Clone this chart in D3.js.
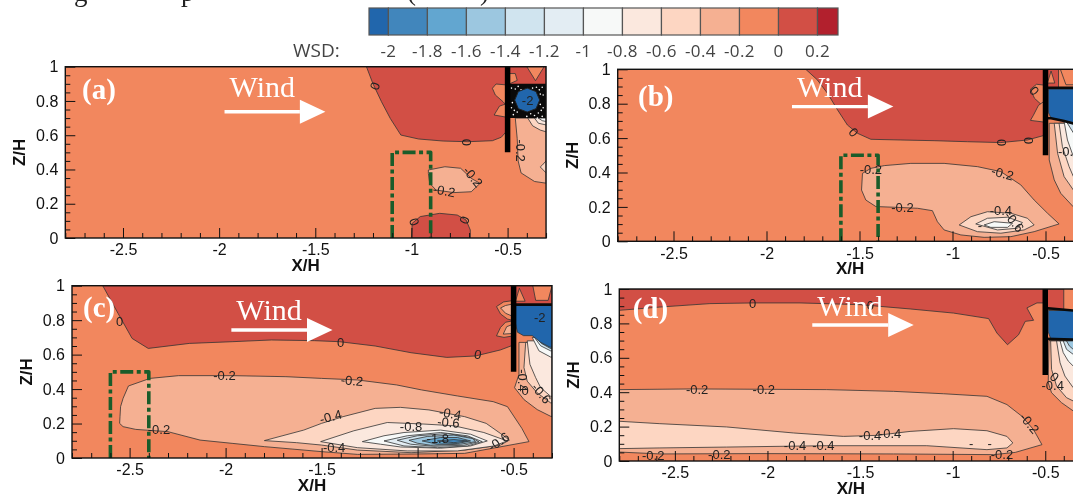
<!DOCTYPE html>
<html>
<head>
<meta charset="utf-8">
<script src="https://cdn.jsdelivr.net/npm/d3@7"></script>
<style>
  html, body { margin: 0; padding: 0; background: #fff; overflow: hidden; }
  svg { display: block; filter: blur(0.35px); }
  .tick-label { font-family: "Liberation Sans", Arial, sans-serif; font-size: 16px; fill: #111; }
  .axis-title { font-family: "Liberation Sans", Arial, sans-serif; font-size: 17px; font-weight: bold; fill: #111; }
  .contour-label { font-family: "Liberation Sans", Arial, sans-serif; font-size: 13px; fill: #222; }
  .wind { font-family: "Liberation Serif", serif; font-size: 30px; fill: #fff; }
  .panel-label { font-family: "Liberation Serif", serif; font-size: 29px; font-weight: bold; fill: #fff; }
  .legend-label { font-family: "Open Sans", sans-serif; font-size: 17px; letter-spacing: 0.4px; fill: #444; }
</style>
</head>
<body>
<svg id="chart" width="1073" height="496"></svg>
<script>
// colour levels of the WSD legend
const levels = [-2, -1.8, -1.6, -1.4, -1.2, -1, -0.8, -0.6, -0.4, -0.2, 0, 0.2];
const levelLabels = ["-2", "-1.8", "-1.6", "-1.4", "-1.2", "-1", "-0.8", "-0.6", "-0.4", "-0.2", "0", "0.2"];
const bandColors = ["#2166ac", "#4186bc", "#62a6d0", "#9cc7e0", "#d0e4ef", "#e3edf3", "#f7f9f8",
  "#fbe8de", "#fdd6c2", "#f5b092", "#f2875e", "#d24f45", "#b2202d"];

const xTicks = [-2.5, -2, -1.5, -1, -0.5];
const xMinor = [-2.8, -2.7, -2.6, -2.4, -2.3, -2.2, -2.1, -1.9, -1.8, -1.7, -1.6, -1.4, -1.3, -1.2, -1.1, -0.9, -0.8, -0.7, -0.6, -0.4, -0.3];
const zTicks = [0, 0.2, 0.4, 0.6, 0.8, 1];
const zMinor = [0.05, 0.1, 0.15, 0.25, 0.3, 0.35, 0.45, 0.5, 0.55, 0.65, 0.7, 0.75, 0.85, 0.9, 0.95];

// wall at the building face, X/H and Z/H range
const wall = [[-0.5, 0.5], [-0.5, 1]];

// [value inside the contour, outline as [X/H, Z/H]]; drawn in this order
const contoursA = [
  [0.1, [[-1.234, 1], [-1.201, 0.903], [-1.156, 0.796], [-1.11, 0.698], [-1.055, 0.601], [-0.963, 0.578], [-0.835, 0.566], [-0.707, 0.562], [-0.579, 0.568], [-0.533, 0.588], [-0.5, 0.63], [-0.5, 1]]],
  [-0.1, [[-0.5, 0.893], [-0.56, 0.899], [-0.579, 0.874], [-0.564, 0.835], [-0.524, 0.796], [-0.5, 0.767]]],
  [-0.1, [[-0.5, 0.786], [-0.542, 0.77], [-0.57, 0.718], [-0.5, 0.704]]],
  [0.1, [[-0.5, 1], [-0.3, 1], [-0.3, 0.88], [-0.5, 0.88]]],
  [-0.1, [[-0.4, 1], [-0.355, 0.918], [-0.31, 1]]],
  [-0.1, [[-0.49, 0.96], [-0.46, 0.96], [-0.45, 0.92], [-0.49, 0.9]]],
  [-0.3, [[-0.912, 0.397], [-0.826, 0.416], [-0.744, 0.407], [-0.689, 0.348], [-0.643, 0.319], [-0.689, 0.27], [-0.78, 0.265], [-0.872, 0.28], [-0.905, 0.319], [-0.912, 0.377]]],
  [0.1, [[-1, 0], [-0.996, 0.086], [-0.954, 0.125], [-0.853, 0.144], [-0.762, 0.134], [-0.716, 0.105], [-0.694, 0.047], [-0.694, 0]]],
  [-0.3, [[-0.46, 0.7], [-0.45, 0.58], [-0.445, 0.45], [-0.43, 0.38], [-0.36, 0.33], [-0.3, 0.32], [-0.3, 0.7]]],
  [-0.5, [[-0.395, 0.7], [-0.37, 0.655], [-0.33, 0.63], [-0.3, 0.62], [-0.3, 0.7]]],
  [-0.7, [[-0.36, 0.7], [-0.34, 0.67], [-0.3, 0.66], [-0.3, 0.7]]],
  [-0.9, [[-0.34, 0.7], [-0.32, 0.685], [-0.3, 0.68], [-0.3, 0.7]]],
  [-0.5, [[-0.3, 0.45], [-0.32, 0.425], [-0.33, 0.415], [-0.3, 0.38]]],
];
const contoursB = [
  [0.1, [[-1.789, 1], [-1.726, 0.938], [-1.672, 0.86], [-1.618, 0.764], [-1.565, 0.676], [-1.511, 0.628], [-1.439, 0.593], [-1.278, 0.589], [-1.099, 0.585], [-0.919, 0.579], [-0.74, 0.574], [-0.597, 0.589], [-0.5, 0.618], [-0.5, 1]]],
  [-0.1, [[-0.5, 0.907], [-0.548, 0.913], [-0.581, 0.884], [-0.559, 0.831], [-0.5, 0.773]]],
  [-0.1, [[-0.5, 0.82], [-0.538, 0.79], [-0.565, 0.733], [-0.581, 0.703], [-0.5, 0.692]]],
  [0.1, [[-0.5, 1], [-0.43, 1], [-0.43, 0.88], [-0.5, 0.88]]],
  [-0.1, [[-0.49, 0.92], [-0.47, 0.99], [-0.45, 0.92]]],
  [-0.1, [[-0.42, 1], [-0.39, 0.91], [-0.3, 0.91], [-0.3, 1]]],
  [-0.3, [[-1.484, 0.395], [-1.489, 0.298], [-1.466, 0.24], [-1.412, 0.202], [-1.314, 0.198], [-1.188, 0.192], [-1.108, 0.178], [-1.081, 0.114], [-1.045, 0.066], [-0.955, 0.037], [-0.83, 0.023], [-0.686, 0.027], [-0.561, 0.056], [-0.427, 0.101], [-0.489, 0.163], [-0.561, 0.24], [-0.633, 0.328], [-0.74, 0.405], [-0.866, 0.434], [-1.045, 0.453], [-1.224, 0.453], [-1.367, 0.44], [-1.439, 0.424]]],
  [-0.5, [[-0.964, 0.095], [-0.901, 0.143], [-0.812, 0.172], [-0.686, 0.163], [-0.597, 0.134], [-0.561, 0.095], [-0.615, 0.066], [-0.74, 0.047], [-0.866, 0.056]]],
  [-0.7, [[-0.875, 0.101], [-0.812, 0.134], [-0.704, 0.14], [-0.624, 0.109], [-0.651, 0.076], [-0.758, 0.066]]],
  [-0.9, [[-0.83, 0.095], [-0.776, 0.114], [-0.677, 0.105], [-0.704, 0.081], [-0.794, 0.081]]],
  [-0.3, [[-0.48, 0.686], [-0.48, 0.473], [-0.453, 0.357], [-0.418, 0.279], [-0.35, 0.2], [-0.3, 0.2], [-0.3, 0.686]]],
  [-0.5, [[-0.453, 0.686], [-0.435, 0.512], [-0.4, 0.376], [-0.35, 0.298], [-0.3, 0.298], [-0.3, 0.686]]],
  [-0.7, [[-0.427, 0.686], [-0.409, 0.55], [-0.373, 0.434], [-0.35, 0.376], [-0.3, 0.376], [-0.3, 0.686]]],
  [-0.9, [[-0.4, 0.696], [-0.382, 0.589], [-0.35, 0.492], [-0.3, 0.492], [-0.3, 0.696]]],
  [-1.3, [[-0.39, 0.7], [-0.35, 0.63], [-0.3, 0.63], [-0.3, 0.7]]],
  [-2.1, [[-0.485, 0.885], [-0.3, 0.885], [-0.3, 0.68], [-0.35, 0.685], [-0.4, 0.7], [-0.47, 0.715], [-0.485, 0.75]]],
];
const contoursC = [
  [0.1, [[-2.64, 1], [-2.56, 0.839], [-2.487, 0.694], [-2.403, 0.636], [-2.189, 0.665], [-1.966, 0.675], [-1.761, 0.685], [-1.537, 0.681], [-1.407, 0.675], [-1.221, 0.65], [-1.034, 0.611], [-0.848, 0.584], [-0.699, 0.592], [-0.569, 0.627], [-0.5, 0.656], [-0.5, 1]]],
  [-0.1, [[-0.5, 0.914], [-0.552, 0.906], [-0.589, 0.879], [-0.568, 0.836], [-0.533, 0.807], [-0.5, 0.797]]],
  [-0.3, [[-0.5, 0.895], [-0.542, 0.885], [-0.568, 0.871], [-0.542, 0.84], [-0.5, 0.82]]],
  [-0.1, [[-0.5, 0.797], [-0.542, 0.788], [-0.568, 0.758], [-0.589, 0.709], [-0.55, 0.7], [-0.5, 0.709]]],
  [-0.3, [[-0.5, 0.778], [-0.536, 0.762], [-0.554, 0.719], [-0.5, 0.723]]],
  [0.1, [[-0.5, 1], [-0.3, 1], [-0.3, 0.88], [-0.5, 0.88]]],
  [-0.1, [[-0.49, 0.91], [-0.47, 0.985], [-0.44, 0.91]]],
  [-0.1, [[-0.4, 1], [-0.385, 0.915], [-0.32, 0.915], [-0.3, 1]]],
  [-0.3, [[-2.552, 0.201], [-2.534, 0.182], [-2.468, 0.166], [-2.301, 0.153], [-2.133, 0.104], [-1.966, 0.085], [-1.798, 0.066], [-1.5, 0.037], [-1.314, 0.021], [-1.034, 0.023], [-0.755, 0.027], [-0.42, 0.095], [-0.457, 0.172], [-0.532, 0.298], [-0.606, 0.327], [-0.792, 0.36], [-0.979, 0.395], [-1.109, 0.424], [-1.314, 0.453], [-1.5, 0.462], [-1.686, 0.472], [-1.966, 0.478], [-2.245, 0.478], [-2.394, 0.462], [-2.506, 0.418], [-2.534, 0.346], [-2.547, 0.298], [-2.55, 0.24]]],
  [-0.5, [[-1.798, 0.101], [-1.593, 0.162], [-1.5, 0.201], [-1.388, 0.24], [-1.221, 0.288], [-1.09, 0.294], [-0.941, 0.279], [-0.755, 0.24], [-0.643, 0.201], [-0.569, 0.143], [-0.522, 0.104], [-0.569, 0.075], [-0.755, 0.046], [-1.034, 0.031], [-1.314, 0.046], [-1.5, 0.075], [-1.63, 0.089]]],
  [-0.7, [[-1.505, 0.095], [-1.332, 0.158], [-1.158, 0.206], [-0.967, 0.197], [-0.811, 0.187], [-0.655, 0.148], [-0.533, 0.099], [-0.602, 0.07], [-0.793, 0.041], [-1.054, 0.041], [-1.314, 0.06]]],
  [-0.9, [[-1.288, 0.095], [-1.175, 0.129], [-1.071, 0.148], [-0.88, 0.162], [-0.724, 0.138], [-0.637, 0.099], [-0.724, 0.07], [-0.88, 0.057], [-1.089, 0.064], [-1.193, 0.08]]],
  [-1.1, [[-1.175, 0.099], [-1.054, 0.129], [-0.88, 0.148], [-0.741, 0.129], [-0.663, 0.095], [-0.741, 0.07], [-0.897, 0.06], [-1.071, 0.07]]],
  [-1.3, [[-1.106, 0.103], [-1.002, 0.129], [-0.845, 0.142], [-0.724, 0.119], [-0.681, 0.095], [-0.759, 0.074], [-0.915, 0.068], [-1.036, 0.08]]],
  [-1.5, [[-1.045, 0.103], [-0.95, 0.125], [-0.811, 0.133], [-0.715, 0.113], [-0.698, 0.095], [-0.776, 0.08], [-0.932, 0.074], [-1.002, 0.086]]],
  [-1.7, [[-0.976, 0.099], [-0.88, 0.119], [-0.793, 0.119], [-0.724, 0.099], [-0.793, 0.084], [-0.897, 0.08]]],
  [-1.9, [[-0.897, 0.099], [-0.811, 0.107], [-0.741, 0.099], [-0.811, 0.089]]],
  [-0.3, [[-0.472, 0.671], [-0.472, 0.485], [-0.495, 0.408], [-0.446, 0.339], [-0.377, 0.281], [-0.307, 0.242], [-0.3, 0.24], [-0.3, 0.67]]],
  [-0.5, [[-0.437, 0.671], [-0.446, 0.525], [-0.429, 0.446], [-0.377, 0.378], [-0.307, 0.32], [-0.3, 0.32], [-0.3, 0.67]]],
  [-0.7, [[-0.429, 0.68], [-0.415, 0.544], [-0.385, 0.466], [-0.359, 0.408], [-0.307, 0.358], [-0.3, 0.358], [-0.3, 0.68]]],
  [-0.9, [[-0.403, 0.7], [-0.368, 0.622], [-0.307, 0.586], [-0.3, 0.586], [-0.3, 0.7]]],
  [-1.3, [[-0.394, 0.703], [-0.359, 0.651], [-0.307, 0.622], [-0.3, 0.622], [-0.3, 0.7]]],
  [-1.7, [[-0.38, 0.7], [-0.355, 0.665], [-0.307, 0.635], [-0.3, 0.635], [-0.3, 0.7]]],
  [-2.1, [[-0.49, 0.89], [-0.3, 0.89], [-0.3, 0.643], [-0.31, 0.643], [-0.36, 0.672], [-0.403, 0.71], [-0.448, 0.71], [-0.48, 0.73], [-0.49, 0.78]]],
];
const contoursD = [
  [0.1, [[-2.8, 0.876], [-2.581, 0.895], [-2.311, 0.915], [-2.077, 0.919], [-1.824, 0.919], [-1.5, 0.909], [-1.23, 0.884], [-0.995, 0.86], [-0.806, 0.828], [-0.761, 0.744], [-0.704, 0.676], [-0.644, 0.734], [-0.608, 0.812], [-0.563, 0.818], [-0.599, 0.89], [-0.545, 0.919], [-0.5, 0.919], [-0.5, 1], [-2.8, 1]]],
  [0.1, [[-0.5, 1], [-0.4, 1], [-0.4, 0.88], [-0.5, 0.88]]],
  [-0.3, [[-2.8, 0.415], [-2.401, 0.419], [-1.68, 0.415], [-1.32, 0.405], [-1.05, 0.391], [-0.815, 0.376], [-0.707, 0.328], [-0.626, 0.26], [-0.563, 0.182], [-0.518, 0.095], [-0.662, 0.05], [-0.779, 0.037], [-1.32, 0.041], [-2.04, 0.043], [-2.581, 0.041], [-2.8, 0.052]]],
  [-0.5, [[-2.8, 0.231], [-2.581, 0.217], [-2.221, 0.198], [-1.86, 0.163], [-1.59, 0.143], [-1.41, 0.149], [-1.23, 0.172], [-0.995, 0.188], [-0.815, 0.176], [-0.707, 0.143], [-0.675, 0.105], [-0.707, 0.076], [-0.815, 0.066], [-1.14, 0.089], [-1.68, 0.089], [-2.221, 0.081], [-2.581, 0.076], [-2.8, 0.072]]],
  [-0.3, [[-0.48, 0.7], [-0.484, 0.455], [-0.466, 0.397], [-0.412, 0.339], [-0.349, 0.291], [-0.3, 0.291], [-0.3, 0.7]]],
  [-0.5, [[-0.471, 0.698], [-0.466, 0.533], [-0.439, 0.436], [-0.385, 0.368], [-0.349, 0.349], [-0.3, 0.349], [-0.3, 0.698]]],
  [-0.7, [[-0.439, 0.698], [-0.42, 0.571], [-0.394, 0.494], [-0.349, 0.426], [-0.3, 0.426], [-0.3, 0.698]]],
  [-0.9, [[-0.42, 0.698], [-0.403, 0.63], [-0.376, 0.581], [-0.349, 0.552], [-0.3, 0.552], [-0.3, 0.698]]],
  [-1.3, [[-0.403, 0.698], [-0.385, 0.649], [-0.349, 0.62], [-0.3, 0.62], [-0.3, 0.698]]],
  [-1.5, [[-0.385, 0.698], [-0.37, 0.669], [-0.349, 0.649], [-0.3, 0.649], [-0.3, 0.698]]],
  [-2.1, [[-0.484, 0.875], [-0.3, 0.875], [-0.3, 0.705], [-0.47, 0.71], [-0.484, 0.75]]],
];

// contour labels: [X/H, Z/H, text, slope of the contour there]
const labelsA = [
  [-1.19, 0.887, "0", -70], [-0.714, 0.558, "0", 90], [-0.985, 0.095, "0", 70], [-0.725, 0.105, "0", -70],
  [-0.83, 0.276, "-0.2", 10], [-0.68, 0.358, "-0.2", 50], [-0.43, 0.51, "-0.2", 90], [-0.396, 0.803, "-2", 0],
];
const labelsB = [
  [-1.532, 0.634, "0", 50], [-0.737, 0.574, "0", 90], [-0.593, 0.585, "0", 90], [-1.439, 0.419, "-0.2", 0],
  [-0.731, 0.395, "-0.2", 15], [-1.269, 0.198, "-0.2", 0], [-0.74, 0.178, "-0.4", 0], [-0.668, 0.114, "-0.6", 50],
  [-0.853, 0.095, "-", 0], [-0.373, 0.521, "-0.8", 0], [-0.56, 0.875, "0", 50],
];
const labelsC = [
  [-2.552, 0.795, "0", 0], [-1.401, 0.671, "0", 0], [-0.686, 0.602, "0", 10], [-2.006, 0.478, "-0.2", 0],
  [-1.342, 0.449, "-0.2", 5], [-2.347, 0.166, "-0.2", 0], [-1.453, 0.24, "-0.4", -15], [-0.83, 0.259, "-0.4", 10],
  [-0.839, 0.207, "-0.6", 5], [-1.034, 0.182, "-0.8", 0], [-0.895, 0.114, "-1.8", 0], [-0.578, 0.095, "-0.6", -35],
  [-1.435, 0.06, "-0.4", 0], [-0.364, 0.814, "-2", 0], [-0.455, 0.45, "-0.4", 90], [-0.44, 0.39, "0", 0], [-0.355, 0.375, "-0.6", 50],
];
const labelsD = [
  [-2.08, 0.918, "0", 0], [-1.445, 0.905, "0", 0], [-2.38, 0.414, "-0.2", 0], [-2.02, 0.414, "-0.2", 0],
  [-1.446, 0.148, "-0.4", 0], [-1.338, 0.158, "-0.4", 0], [-1.851, 0.09, "-0.4", 0], [-1.698, 0.09, "-0.4", 0],
  [-2.617, 0.035, "-0.2", 0], [-2.26, 0.04, "-0.2", 0], [-0.734, 0.04, "-0.2", 0], [-0.585, 0.22, "-0.2", 50],
  [-0.9, 0.1, "-", 0], [-0.8, 0.1, "-", 0], [-0.45, 0.49, "0", 40], [-0.46, 0.44, "-0.4", 0],
];

// the black knot of closely packed contours in panel (a)
const knotA = [[-0.49, 0.9], [-0.3, 0.9], [-0.3, 0.7], [-0.49, 0.7]];
const coreA = [[-0.398, 0.875], [-0.352, 0.855], [-0.333, 0.805], [-0.352, 0.755], [-0.398, 0.735], [-0.444, 0.755], [-0.463, 0.805], [-0.444, 0.855]];
const specksA = [[-0.48, 0.875], [-0.46, 0.87], [-0.445, 0.885], [-0.43, 0.865], [-0.37, 0.875], [-0.35, 0.88], [-0.335, 0.865], [-0.32, 0.88],
  [-0.33, 0.84], [-0.315, 0.835], [-0.475, 0.79], [-0.48, 0.76], [-0.465, 0.745], [-0.47, 0.72], [-0.45, 0.735], [-0.33, 0.78],
  [-0.315, 0.76], [-0.325, 0.745], [-0.38, 0.725], [-0.36, 0.715], [-0.34, 0.73], [-0.4, 0.71], [-0.32, 0.71], [-0.345, 0.7]];

// heavy contour bundles along the top and bottom of the blue core
const bundlesB = [[[-0.5, 0.893], [-0.3, 0.893]], [[-0.5, 0.715], [-0.47, 0.715], [-0.4, 0.7], [-0.35, 0.685]]];
const bundlesC = [[[-0.5, 0.89], [-0.3, 0.89]]];
const bundlesD = [[[-0.5, 0.89], [-0.3, 0.87]], [[-0.5, 0.71], [-0.3, 0.705]]];

// upstream green box: [X/H left, X/H right, Z/H top]
const boxA = [-1.1, -0.9, 0.5];
const boxB = [-1.6, -1.4, 0.5];
const boxC = [-2.6, -2.4, 0.5];

// wind arrow: [X/H start, X/H end, Z/H], then Z/H of the word
const windA = [-1.972, -1.58, 0.737, 0.823];
const windB = [-1.863, -1.455, 0.783, 0.839];
const windC = [-1.97, -1.576, 0.743, 0.8];
const windD = [-1.758, -1.348, 0.791, 0.843];

const panels = [
  { name: "(a)", contours: contoursA, labels: labelsA, box: boxA, wind: windA, bundles: [], left: 65.3, top: 66.7, pxX: 192.3, pxZ: 171.3, nameX: 82, nameY: 99 },
  { name: "(b)", contours: contoursB, labels: labelsB, box: boxB, wind: windB, bundles: bundlesB, left: 617.7, top: 69.3, pxX: 186, pxZ: 172, nameX: 638, nameY: 106 },
  { name: "(c)", contours: contoursC, labels: labelsC, box: boxC, wind: windC, bundles: bundlesC, left: 72, top: 285.7, pxX: 192, pxZ: 172.3, nameX: 83, nameY: 317 },
  { name: "(d)", contours: contoursD, labels: labelsD, box: null, wind: windD, bundles: bundlesD, left: 619.3, top: 289, pxX: 185.2, pxZ: 172, nameX: 632.7, nameY: 318 },
];

const svg = d3.select("#chart");
const color = d3.scaleThreshold().domain(levels).range(bandColors);

// bottom of the caption line that the crop cut through
const caption = [["g", 74, 1], ["p", 181, 1], ["(", 407, 0], [")", 480, 0]];
svg.selectAll(".caption")
  .data(caption)
  .enter()
  .append("text")
  .attr("class", "caption")
  .attr("x", (d) => d[1])
  .attr("y", (d) => d[2])
  .attr("font-family", "Liberation Serif")
  .attr("font-size", 27)
  .attr("fill", "#222")
  .text((d) => d[0]);

// legend
const legendX = d3.scaleLinear().domain([-2, 0.2]).range([388.4, 817.5]);
const legendEdges = [369, ...levels.map((d) => legendX(d)), 838];
svg.selectAll(".swatch")
  .data(bandColors)
  .enter()
  .append("rect")
  .attr("class", "swatch")
  .attr("x", (d, i) => legendEdges[i])
  .attr("y", 8)
  .attr("width", (d, i) => legendEdges[i + 1] - legendEdges[i])
  .attr("height", 27)
  .attr("fill", (d) => d)
  .attr("stroke", "#555")
  .attr("stroke-width", 1.2);
svg.selectAll(".legend-label")
  .data(levels)
  .enter()
  .append("text")
  .attr("class", "legend-label")
  .attr("x", (d) => legendX(d))
  .attr("y", 57)
  .attr("text-anchor", "middle")
  .text((d, i) => levelLabels[i]);
svg.append("text")
  .attr("class", "legend-label")
  .attr("x", 293)
  .attr("y", 57)
  .style("font-size", "19px")
  .style("letter-spacing", "0")
  .text("WSD:");

panels.forEach((p, index) => {
  const x = d3.scaleLinear().domain([-2.8, -0.3]).range([p.left, p.left + 2.5 * p.pxX]);
  const z = d3.scaleLinear().domain([0, 1]).range([p.top + p.pxZ, p.top]);
  const line = d3.line().x((d) => x(d[0])).y((d) => z(d[1]));
  const bottom = z(0);

  svg.append("clipPath")
    .attr("id", `clip${index}`)
    .append("rect")
    .attr("x", x(-2.8))
    .attr("y", z(1))
    .attr("width", x(-0.3) - x(-2.8))
    .attr("height", z(0) - z(1));

  const plot = svg.append("g").attr("clip-path", `url(#clip${index})`);

  // base band
  plot.append("rect")
    .attr("x", x(-2.8))
    .attr("y", z(1))
    .attr("width", x(-0.3) - x(-2.8))
    .attr("height", z(0) - z(1))
    .attr("fill", color(-0.1));

  plot.selectAll(".contour")
    .data(p.contours)
    .enter()
    .append("path")
    .attr("class", "contour")
    .attr("d", (d) => line(d[1]) + "Z")
    .attr("fill", (d) => color(d[0]))
    .attr("stroke", "#333")
    .attr("stroke-width", 0.8)
    .attr("stroke-linejoin", "round");

  if (index === 0) {
    plot.append("path").attr("d", line(knotA) + "Z").attr("fill", "#0a0a0a");
    plot.selectAll(".speck")
      .data(specksA)
      .enter()
      .append("circle")
      .attr("class", "speck")
      .attr("cx", (d) => x(d[0]))
      .attr("cy", (d) => z(d[1]))
      .attr("r", 0.8)
      .attr("fill", "#fff");
    plot.append("path").attr("d", line(coreA) + "Z").attr("fill", color(-2.1)).attr("stroke", "#222");
  }

  plot.selectAll(".bundle")
    .data(p.bundles)
    .enter()
    .append("path")
    .attr("class", "bundle")
    .attr("d", (d) => line(d))
    .attr("fill", "none")
    .attr("stroke", "#0a0a0a")
    .attr("stroke-width", 2.6);

  // contour labels
  plot.selectAll(".contour-label")
    .data(p.labels)
    .enter()
    .append("text")
    .attr("class", "contour-label")
    .attr("text-anchor", "middle")
    .attr("dy", "0.35em")
    .attr("transform", (d) => `translate(${x(d[0])},${z(d[1])}) rotate(${d[3]})`)
    .text((d) => d[2]);

  // building wall
  plot.append("path")
    .attr("d", line(wall))
    .attr("stroke", "#000")
    .attr("stroke-width", 5.5)
    .attr("fill", "none");

  // green box, open at the ground
  if (p.box) {
    const [b0, b1, bTop] = p.box;
    plot.append("path")
      .attr("d", line([[b0, 0], [b0, bTop], [b1, bTop], [b1, 0]]))
      .attr("fill", "none")
      .attr("stroke", "#1a5c2a")
      .attr("stroke-width", 3.6)
      .attr("stroke-linejoin", "round")
      .attr("stroke-dasharray", "13,3.5,4,3.5");
  }

  // wind arrow and word
  const [w0, w1, wz, wordZ] = p.wind;
  plot.append("text").attr("class", "wind").attr("x", x(w0) + 5).attr("y", z(wordZ)).text("Wind");
  plot.append("line")
    .attr("x1", x(w0))
    .attr("x2", x(w1))
    .attr("y1", z(wz))
    .attr("y2", z(wz))
    .attr("stroke", "#fff")
    .attr("stroke-width", 3.4);
  plot.append("path")
    .attr("d", `M${x(w1)},${z(wz) - 12}L${x(w1) + 25.5},${z(wz)}L${x(w1)},${z(wz) + 12}Z`)
    .attr("fill", "#fff");
  plot.append("text").attr("class", "panel-label").attr("x", p.nameX).attr("y", p.nameY).text(p.name);

  // axes: ticks point into the plot
  const xAxis = svg.append("g").attr("transform", `translate(0,${bottom})`);
  xAxis.call(d3.axisBottom(x).tickValues(xTicks).tickSize(-10).tickPadding(6).tickFormat((d) => String(d)));
  xAxis.selectAll(".tick text").attr("class", "tick-label").attr("fill", null);
  const xMinorAxis = svg.append("g").attr("transform", `translate(0,${bottom})`);
  xMinorAxis.call(d3.axisBottom(x).tickValues(xMinor).tickSize(-5).tickFormat(""));

  const zAxis = svg.append("g").attr("transform", `translate(${p.left},0)`);
  zAxis.call(d3.axisLeft(z).tickValues(zTicks).tickSize(-10).tickPadding(7).tickFormat((d) => String(d)));
  zAxis.selectAll(".tick text").attr("class", "tick-label").attr("fill", null);
  const zMinorAxis = svg.append("g").attr("transform", `translate(${p.left},0)`);
  zMinorAxis.call(d3.axisLeft(z).tickValues(zMinor).tickSize(-5).tickFormat(""));

  [xAxis, xMinorAxis, zAxis, zMinorAxis].forEach((a) => {
    a.selectAll(".domain").remove();
    a.selectAll(".tick line").attr("stroke", "#111").attr("stroke-width", 1);
  });

  // frame
  svg.append("rect")
    .attr("x", x(-2.8))
    .attr("y", z(1))
    .attr("width", x(-0.3) - x(-2.8))
    .attr("height", z(0) - z(1))
    .attr("fill", "none")
    .attr("stroke", "#111")
    .attr("stroke-width", 1.4);

  svg.append("text")
    .attr("class", "axis-title")
    .attr("x", p.left + 1.25 * p.pxX)
    .attr("y", bottom + 33)
    .attr("text-anchor", "middle")
    .text("X/H");
  svg.append("text")
    .attr("class", "axis-title")
    .attr("transform", `translate(${p.left - 40},${(z(0) + z(1)) / 2}) rotate(-90)`)
    .attr("text-anchor", "middle")
    .text("Z/H");
});
</script>
</body>
</html>
